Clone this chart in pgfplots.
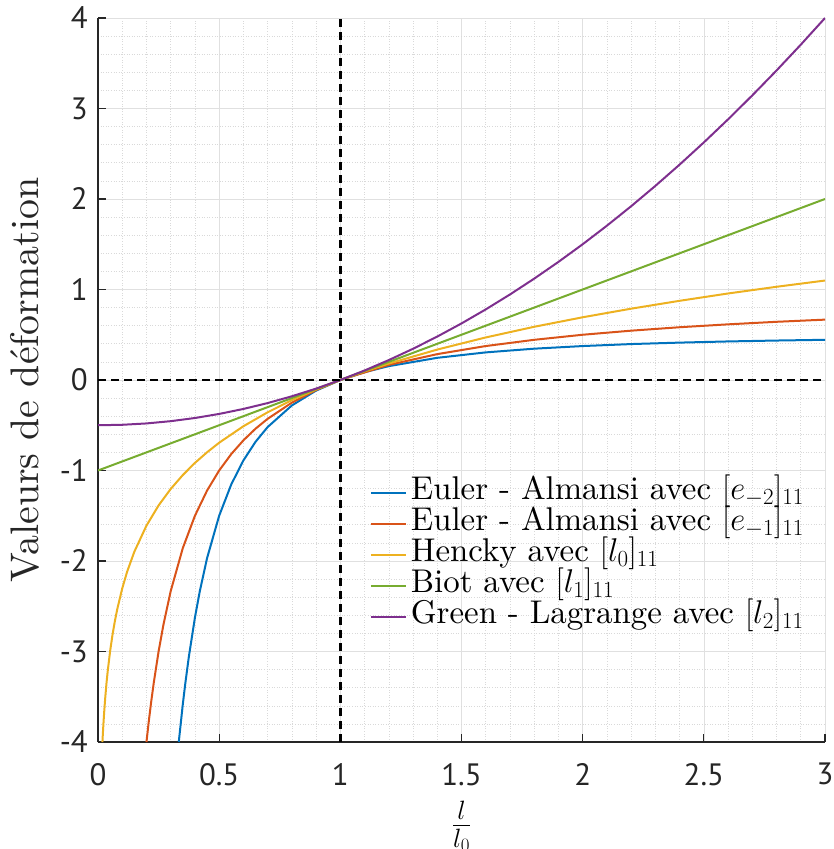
\RequirePackage{fix-cm}
\documentclass[border=0pt]{standalone}
\usepackage{pgfplots}
\pgfplotsset{compat=1.18}
\usepackage{fontspec}
\setmainfont{lmroman10-regular.otf}[BoldFont=lmroman10-bold.otf, ItalicFont=lmroman10-italic.otf]
\newfontfamily\tickfont{PT Sans}
\definecolor{mblue}{rgb}{0,0.447,0.741}
\definecolor{morange}{rgb}{0.85,0.325,0.098}
\definecolor{myellow}{rgb}{0.929,0.694,0.125}
\definecolor{mgreen}{rgb}{0.466,0.674,0.188}
\definecolor{mpurple}{rgb}{0.494,0.184,0.556}
\definecolor{axgray}{HTML}{262626}
\begin{document}
\begin{tikzpicture}
\begin{axis}[
  scale only axis,
  width=727bp, height=724bp,
  xmin=0, xmax=3, ymin=-4, ymax=4,
  xtick={0,0.5,...,3}, ytick={-4,-3,...,4},
  xticklabels={0,0.5,1,1.5,2,2.5,3},
  yticklabels={-4,-3,-2,-1,0,1,2,3,4},
  minor x tick num=4, minor y tick num=4,
  grid=both,
  major grid style={draw=black!12, line width=0.6bp},
  minor grid style={draw=black!15, line width=0.6bp, dotted},
  axis lines*=left,
  axis line style={draw=axgray, line width=1.1bp, -},
  tick style={draw=axgray, line width=1.1bp},
  minor tick length=0pt,
  major tick length=8bp,
  tick align=inside,
  xtick pos=bottom, ytick pos=left,
  tick label style={font=\tickfont\fontsize{31}{31}\selectfont, text=axgray, inner sep=0pt},
  xticklabel style={anchor=north, yshift=-21bp},
  yticklabel style={anchor=east, xshift=-10bp},
  xlabel={$\frac{l}{l_0}$},
  xlabel style={font=\fontsize{38}{38}\selectfont, at={(rel axis cs:0.5,0)}, anchor=north, yshift=-59bp, inner sep=0pt},
  ylabel={Valeurs de déformation},
  ylabel style={font=\fontsize{40}{40}\selectfont, text=axgray, at={(rel axis cs:0,0.5)}, anchor=south, yshift=58bp, inner sep=0pt},
  clip=true,
  legend cell align=left,
  legend style={draw=none, fill=none, at={(rel axis cs:0.374,0.365)}, anchor=north west,
    inner sep=0pt, outer sep=0pt,
    font=\fontsize{33}{33}\selectfont,
    nodes={inner sep=0pt, text height=22bp, text depth=9bp},
    column sep=4bp},
  legend image code/.code={\draw[#1, line width=2bp] (0bp,0bp) -- (35bp,0bp);},
  every axis plot/.append style={line width=2bp},
]
\addplot[mblue] coordinates {
(0.3333,-4) (0.35,-3.582) (0.36,-3.358) (0.375,-3.056) (0.4,-2.625) (0.42,-2.335)
(0.45,-1.969) (0.5,-1.5) (0.55,-1.153) (0.6,-0.889) (0.65,-0.683) (0.7,-0.520)
(0.8,-0.281) (0.9,-0.117) (1.0,0) (1.1,0.0868) (1.2,0.153) (1.4,0.245) (1.6,0.305)
(1.8,0.346) (2.0,0.375) (2.2,0.397) (2.4,0.413) (2.6,0.426) (2.8,0.436) (3.0,0.444)};
\addlegendentry{Euler - Almansi avec $[e_{-2}]_{11}$}
\addplot[morange] coordinates {
(0.2,-4) (0.21,-3.762) (0.22,-3.545) (0.23,-3.348) (0.25,-3) (0.27,-2.704)
(0.3,-2.333) (0.35,-1.857) (0.4,-1.5) (0.45,-1.222) (0.5,-1) (0.55,-0.818)
(0.6,-0.667) (0.65,-0.538) (0.7,-0.429) (0.8,-0.25) (0.9,-0.111) (1.0,0)
(1.2,0.167) (1.4,0.286) (1.6,0.375) (1.8,0.444) (2.0,0.5) (2.2,0.545)
(2.4,0.583) (2.6,0.615) (2.8,0.643) (3.0,0.667)};
\addlegendentry{Euler - Almansi avec $[e_{-1}]_{11}$}
\addplot[myellow] coordinates {
(0.01832,-4) (0.02,-3.912) (0.022,-3.817) (0.025,-3.689) (0.03,-3.507)
(0.035,-3.352) (0.04,-3.219) (0.05,-2.996) (0.06,-2.813) (0.07,-2.659)
(0.08,-2.526) (0.1,-2.303) (0.12,-2.120) (0.15,-1.897) (0.2,-1.609)
(0.25,-1.386) (0.3,-1.204) (0.35,-1.050) (0.4,-0.916) (0.45,-0.799)
(0.5,-0.693) (0.6,-0.511) (0.7,-0.357) (0.8,-0.223) (0.9,-0.105) (1.0,0)
(1.1,0.0953) (1.2,0.182) (1.4,0.336) (1.6,0.470) (1.8,0.588) (2.0,0.693)
(2.2,0.788) (2.4,0.875) (2.6,0.956) (2.8,1.030) (3.0,1.099)};
\addlegendentry{Hencky avec $[l_0]_{11}$}
\addplot[mgreen] coordinates {(0,-1) (1,0) (2,1) (3,2)};
\addlegendentry{Biot avec $[l_1]_{11}$}
\addplot[mpurple] coordinates {
(0,-0.5) (0.1,-0.495) (0.2,-0.48) (0.3,-0.455) (0.4,-0.42) (0.5,-0.375)
(0.6,-0.32) (0.7,-0.255) (0.8,-0.18) (0.9,-0.095) (1.0,0) (1.1,0.105)
(1.2,0.22) (1.3,0.345) (1.4,0.48) (1.5,0.625) (1.6,0.78) (1.7,0.945)
(1.8,1.12) (1.9,1.305) (2.0,1.5) (2.1,1.705) (2.2,1.92) (2.3,2.145)
(2.4,2.38) (2.5,2.625) (2.6,2.88) (2.7,3.145) (2.8,3.42) (2.9,3.705) (3.0,4)};
\addlegendentry{Green - Lagrange avec $[l_2]_{11}$}
\addplot[black, line width=2.4bp, dash pattern=on 8bp off 5bp, forget plot] coordinates {(1,-4) (1,4)};
\addplot[black, line width=2.4bp, dash pattern=on 8bp off 5bp, forget plot] coordinates {(0,0) (3,0)};
\end{axis}
\path (current axis.south west) ++(-98bp,-107bp) coordinate (bbA);
\path (current axis.north east) ++(8bp,18bp) coordinate (bbB);
\pgfresetboundingbox
\useasboundingbox (bbA) rectangle (bbB);
\end{tikzpicture}
\end{document}
